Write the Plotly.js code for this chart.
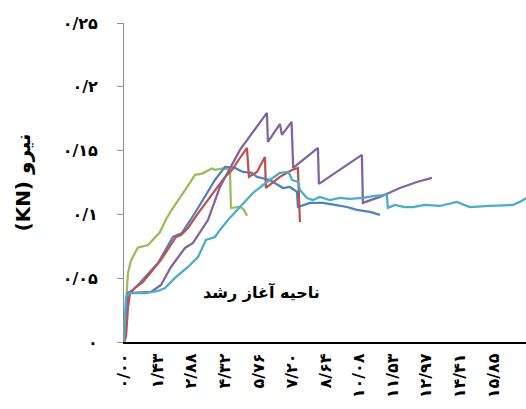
<!DOCTYPE html>
<html>
<head>
<meta charset="utf-8">
<script src="https://cdn.plot.ly/plotly-3.0.1.min.js"></script>
<style>html,body{margin:0;padding:0;background:#fff;}#chart{width:526px;height:409px;}</style>
</head>
<body>
<div id="chart"></div>
<script>
// Tick labels
var xTickVals = [0, 1.441, 2.882, 4.323, 5.764, 7.205, 8.646, 10.087, 11.528, 12.969, 14.41, 15.851];
var xTickText = ["۰/۰۰", "۱/۴۳", "۲/۸۸", "۴/۳۲", "۵/۷۶", "۷/۲۰", "۸/۶۴", "۱۰/۰۸", "۱۱/۵۳", "۱۲/۹۷", "۱۴/۴۱", "۱۵/۸۵"];
var yTickVals = [0, 0.05, 0.1, 0.15, 0.2, 0.25];
var yTickText = ["۰", "۰/۰۵", "۰/۱", "۰/۱۵", "۰/۲", "۰/۲۵"];

// Series (displacement, force in KN)
var greenX = [0, 0.043, 0.086, 0.17, 0.30, 0.60, 1.03, 1.33, 1.54, 1.80, 2.06, 2.62, 3.05, 3.35, 3.77, 3.90, 4.25, 4.50, 4.55, 4.59, 4.98, 5.15, 5.28];
var greenY = [0, 0.017, 0.031, 0.054, 0.064, 0.074, 0.076, 0.082, 0.086, 0.096, 0.104, 0.119, 0.131, 0.132, 0.136, 0.135, 0.136, 0.135, 0.133, 0.105, 0.106, 0.1035, 0.099];

var blueX = [0, 0.043, 0.172, 0.386, 0.60, 1.458, 2.102, 2.488, 3.045, 3.903, 4.332, 4.761, 5.104, 5.49, 5.704, 6.262, 6.82, 7.12, 7.42, 7.463, 7.978, 8.535, 9.05, 9.565, 9.994, 10.55, 10.98];
var blueY = [0, 0.017, 0.0384, 0.0408, 0.0447, 0.0619, 0.0823, 0.0855, 0.1011, 0.127, 0.1372, 0.1364, 0.1333, 0.1325, 0.1294, 0.127, 0.1207, 0.1215, 0.1176, 0.1058, 0.109, 0.109, 0.1074, 0.1058, 0.1035, 0.102, 0.0996];

var redX = [0, 0.086, 0.172, 0.257, 0.515, 0.815, 1.158, 1.587, 2.23, 2.445, 2.745, 3.131, 4.332, 4.632, 4.975, 5.276, 5.361, 5.704, 6.047, 6.09, 6.691, 7.206, 7.463, 7.549];
var redY = [0, 0.0039, 0.0274, 0.0384, 0.0431, 0.047, 0.0549, 0.0643, 0.0823, 0.0839, 0.0894, 0.0996, 0.1294, 0.1348, 0.1442, 0.1521, 0.1294, 0.1333, 0.145, 0.1207, 0.1294, 0.1348, 0.1364, 0.0941];

var purpleX = [0, 0.043, 0.172, 1.158, 1.587, 2.016, 2.616, 2.96, 3.603, 4.117, 4.975, 6.133, 6.176, 6.691, 6.777, 7.19, 7.26, 8.321, 8.364, 10.208, 10.251, 10.98, 11.838, 12.567, 13.21];
var purpleY = [0, 0.017, 0.0384, 0.0392, 0.0447, 0.0588, 0.0737, 0.0776, 0.0956, 0.1215, 0.1505, 0.1795, 0.1568, 0.1709, 0.1623, 0.1725, 0.1364, 0.1521, 0.1239, 0.1466, 0.109, 0.1137, 0.1207, 0.1254, 0.1286];

var cyanX = [0, 0.043, 0.086, 0.257, 0.90, 1.458, 1.759, 2.187, 2.745, 3.174, 3.517, 3.903, 4.117, 4.46, 4.847, 5.533, 6.133, 6.691, 7.035, 7.12, 7.206, 7.463, 7.549, 7.849, 8.106, 8.406, 8.835, 9.264, 9.694, 10.251, 10.766, 11.28, 11.323, 11.624, 12.052, 12.395, 12.911, 13.553, 14.282, 14.625, 14.84, 15.697, 16.684, 16.98, 17.28];
var cyanY = [0, 0.0172, 0.0353, 0.0384, 0.0384, 0.040, 0.0423, 0.0502, 0.0588, 0.0666, 0.080, 0.0823, 0.0878, 0.0956, 0.1035, 0.1168, 0.1254, 0.1325, 0.1333, 0.1309, 0.127, 0.1254, 0.1192, 0.1129, 0.1113, 0.1137, 0.1113, 0.1129, 0.1121, 0.1129, 0.1145, 0.1152, 0.1051, 0.1074, 0.1058, 0.1058, 0.1074, 0.1066, 0.1098, 0.1074, 0.1058, 0.1066, 0.1074, 0.1098, 0.1129];

var annotationText = "ناحیه آغاز رشد";
var yTitle = "(KN) نیرو";

function line(x, y, color) {
  return {x: x, y: y, type: 'scatter', mode: 'lines', line: {color: color, width: 2.25}, hoverinfo: 'skip'};
}

var data = [
  line(greenX, greenY, '#9BBB59'),
  line(blueX, blueY, '#4F81BD'),
  line(redX, redY, '#C0504D'),
  line(purpleX, purpleY, '#8064A2'),
  line(cyanX, cyanY, '#4BACC6')
];

var tickFont = {family: 'DejaVu Sans', size: 16, color: '#000', weight: 'bold'};

var layout = {
  width: 526, height: 409,
  margin: {l: 124, r: 0, t: 23, b: 67, pad: 0},
  paper_bgcolor: '#fff', plot_bgcolor: '#fff',
  showlegend: false,
  xaxis: {
    range: [0, 17.25], showgrid: false, zeroline: false,
    showline: true, linecolor: '#000', linewidth: 2,
    ticks: '', tickmode: 'array', tickvals: xTickVals, ticktext: xTickText,
    tickangle: -90, tickfont: tickFont, ticklabelstandoff: 3
  },
  yaxis: {
    range: [0, 0.25], showgrid: false, zeroline: false,
    showline: true, linecolor: '#8c8c8c', linewidth: 1,
    ticks: 'outside', ticklen: 6, tickcolor: '#8c8c8c', tickwidth: 1,
    tickmode: 'array', tickvals: yTickVals, ticktext: yTickText,
    tickfont: tickFont, ticklabelstandoff: 16,
    title: {text: yTitle, font: {family: 'DejaVu Sans', size: 20, color: '#000', weight: 'bold'}, standoff: 26}
  },
  annotations: [{
    x: 5.92, y: 0.039, xref: 'x', yref: 'y', text: annotationText, showarrow: false,
    font: {family: 'DejaVu Sans', size: 16, color: '#000', weight: 'bold'}
  }]
};

Plotly.newPlot('chart', data, layout, {displayModeBar: false, staticPlot: true});
</script>
</body>
</html>
